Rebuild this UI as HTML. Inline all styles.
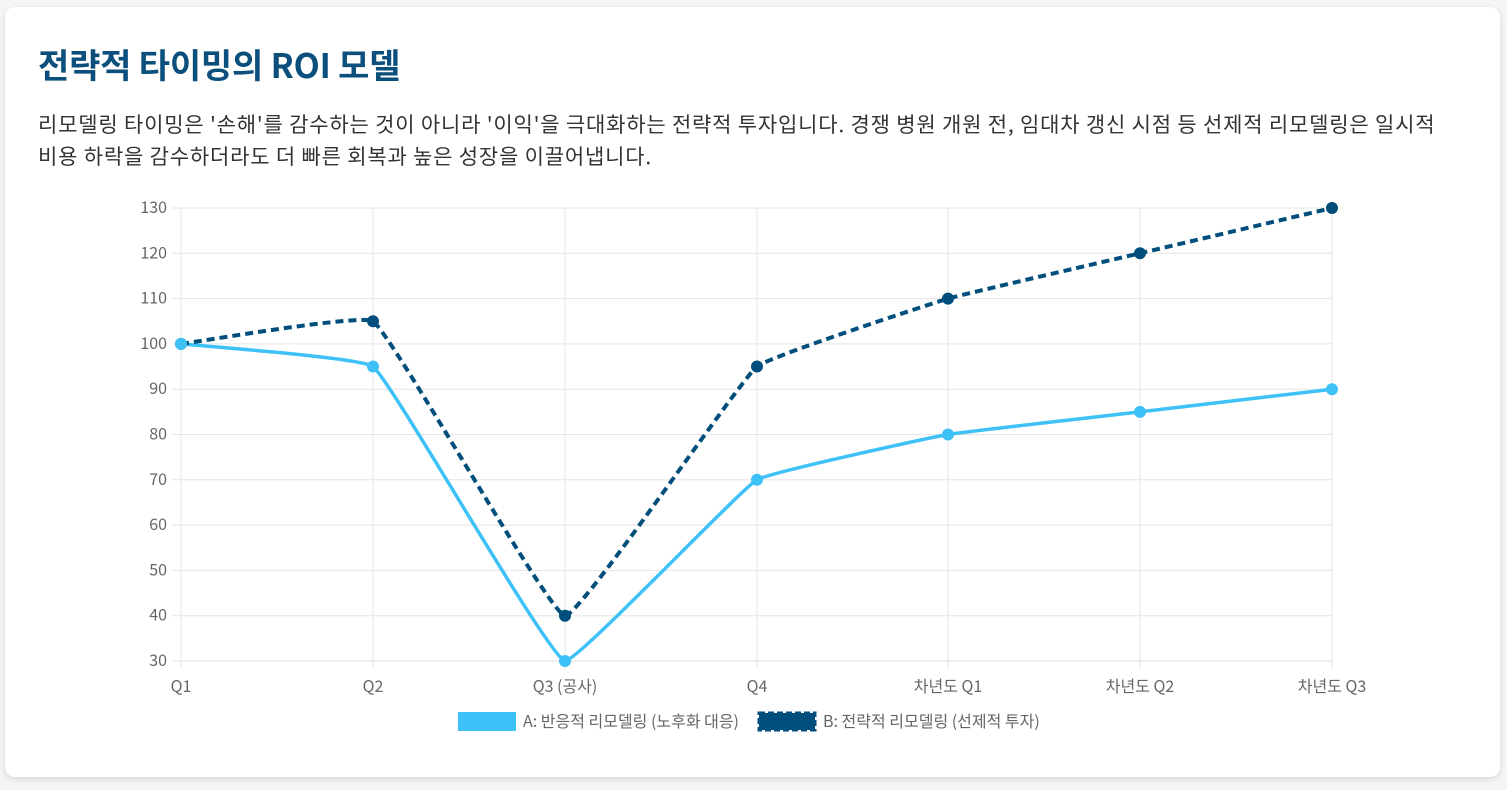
<!DOCTYPE html>
<html><head><meta charset="utf-8">
<style>
html,body{margin:0;padding:0;background:#f3f4f6;width:1507px;height:790px;overflow:hidden;font-family:"Liberation Sans","Noto Sans CJK KR",sans-serif;}
.card{position:absolute;left:5px;top:7px;width:1495px;height:770px;background:#fff;border-radius:10px;box-shadow:0 2px 6px rgba(0,0,0,0.12);}
h1{position:absolute;left:38px;top:40px;margin:0;font-size:34px;font-weight:bold;color:#0b4f7c;font-family:"Noto Sans CJK KR",sans-serif;letter-spacing:-0.2px;line-height:48px}
p{position:absolute;left:38px;top:108px;margin:0;width:1460px;font-size:21px;letter-spacing:0.8px;line-height:32px;color:#333;font-family:"Noto Sans CJK KR",sans-serif;white-space:nowrap}
svg{position:absolute;left:0;top:0}
svg text{font-family:"Noto Sans CJK KR",sans-serif;font-size:16px;fill:#666}
</style></head><body>
<div class="card"></div>
<h1>전략적 타이밍의 ROI 모델</h1>
<p>리모델링 타이밍은 '손해'를 감수하는 것이 아니라 '이익'을 극대화하는 전략적 투자입니다. 경쟁 병원 개원 전, 임대차 갱신 시점 등 선제적 리모델링은 일시적<br>비용 하락을 감수하더라도 더 빠른 회복과 높은 성장을 이끌어냅니다.</p>
<svg id="c" width="1507" height="790" xmlns="http://www.w3.org/2000/svg"></svg>
<script>
var s=document.getElementById('c'),h='';
var xs=[181,373,565,757,948,1140,1332],labels=['Q1','Q2','Q3 (공사)','Q4','차년도 Q1','차년도 Q2','차년도 Q3'];
function Y(v){return 661-(v-30)*4.53;}
for(var v=30;v<=130;v+=10){var y=Y(v);h+='<line x1="172" x2="1332" y1="'+y+'" y2="'+y+'" stroke="#e5e5e5"/>';h+='<text x="167" y="'+(y+5)+'" text-anchor="end">'+v+'</text>';}
xs.forEach(function(x,i){h+='<line x1="'+x+'" x2="'+x+'" y1="208" y2="669" stroke="#e5e5e5"/>';h+='<text x="'+x+'" y="692" text-anchor="middle">'+labels[i]+'</text>';});
h+='<line x1="181" x2="1332" y1="661" y2="661" stroke="#ddd"/>';
function path(vals,t){var n=vals.length,p=vals.map(function(v,i){return [xs[i],Y(v)]});var cps=[];
for(var i=0;i<n;i++){var pr=p[Math.max(0,i-1)],c=p[i],nx=p[Math.min(n-1,i+1)];
var d01=Math.hypot(c[0]-pr[0],c[1]-pr[1]),d12=Math.hypot(nx[0]-c[0],nx[1]-c[1]);
var s01=d01/(d01+d12)||0,s12=d12/(d01+d12)||0;var fa=t*s01,fb=t*s12;
cps.push({p:[c[0]-fa*(nx[0]-pr[0]),Math.min(661,c[1]-fa*(nx[1]-pr[1]))],n:[c[0]+fb*(nx[0]-pr[0]),Math.min(661,c[1]+fb*(nx[1]-pr[1]))]});}
var str='M'+p[0][0]+','+p[0][1];
for(i=0;i<n-1;i++){str+=' C'+cps[i].n[0]+','+cps[i].n[1]+' '+cps[i+1].p[0]+','+cps[i+1].p[1]+' '+p[i+1][0]+','+p[i+1][1];}
return {d:str,p:p};}
var A=path([100,95,30,70,80,85,90],0.08),B=path([100,105,40,95,110,120,130],0.08);
h+='<path d="'+A.d+'" fill="none" stroke="#3ec1f7" stroke-width="3.5"/>';
h+='<path d="'+B.d+'" fill="none" stroke="#004e7b" stroke-width="4" stroke-dasharray="8,5"/>';
B.p.forEach(function(q){h+='<circle cx="'+q[0]+'" cy="'+q[1]+'" r="6" fill="#004e7b"/>';});
A.p.forEach(function(q){h+='<circle cx="'+q[0]+'" cy="'+q[1]+'" r="6" fill="#3ec1f7"/>';});
h+='<rect x="458" y="712" width="58" height="19" fill="#3ec1f7"/>';
h+='<text x="523" y="727">A: 반응적 리모델링 (노후화 대응)</text>';
h+='<rect x="759" y="713" width="56" height="17" fill="#004e7b" stroke="#004e7b" stroke-width="3" stroke-dasharray="6,3"/>';
h+='<text x="823" y="727">B: 전략적 리모델링 (선제적 투자)</text>';
s.innerHTML=h;
</script>
</body></html>
